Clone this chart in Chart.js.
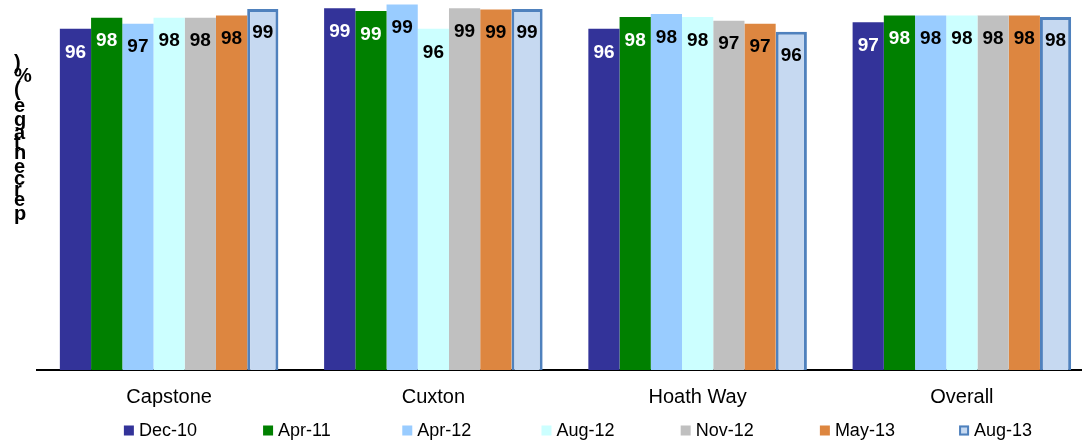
<!DOCTYPE html>
<html>
<head>
<meta charset="utf-8">
<script src="https://cdn.jsdelivr.net/npm/chart.js@4.4.1/dist/chart.umd.min.js"></script>
<style>
  html, body { margin: 0; padding: 0; background: #fff; overflow: hidden; }
  #wrap { width: 1082px; height: 443px; overflow: hidden; position: relative; }
  canvas { display: block; }
</style>
</head>
<body>
<div id="wrap"><canvas id="c" width="1100" height="443"></canvas></div>
<script>
// Satisfaction survey results by site, per survey round (percent)
const sites   = ['Capstone', 'Cuxton', 'Hoath Way', 'Overall'];
const surveys = ['Dec-10', 'Apr-11', 'Apr-12', 'Aug-12', 'Nov-12', 'May-13', 'Aug-13'];

const dec10 = [96.1, 98.9, 96.1, 97.0];
const apr11 = [97.6, 98.5, 97.7, 97.9];
const apr12 = [96.8, 99.4, 98.1, 97.9];
const aug12 = [97.6, 96.1, 97.7, 97.9];
const nov12 = [97.6, 98.9, 97.2, 97.9];
const may13 = [97.9, 98.7, 96.8, 97.9];
const aug13 = [98.8, 98.8, 95.7, 97.7];

const axisTitle = 'percentage (%)';

const seriesValues = [dec10, apr11, apr12, aug12, nov12, may13, aug13];
const fills   = ['#333399', '#008000', '#99CCFF', '#CCFFFF', '#C0C0C0', '#DD8640', '#C6D9F1'];
const borders = [null, null, null, null, null, null, '#4F81BD'];
const labelInk = ['#ffffff', '#ffffff', '#000000', '#000000', '#000000', '#000000', '#000000'];

const FONT = "'Liberation Sans', Arial, sans-serif";

const datasets = surveys.map((name, i) => ({
  label: name,
  data: seriesValues[i],
  backgroundColor: fills[i],
  borderColor: borders[i] || fills[i],
  borderWidth: borders[i] ? 3 : 0,
  borderSkipped: false
}));

// Rounded value printed inside the top of every bar
const valueLabels = {
  id: 'valueLabels',
  afterDatasetsDraw(chart) {
    const ctx = chart.ctx;
    ctx.save();
    ctx.font = 'bold 19px ' + FONT;
    ctx.textAlign = 'center';
    ctx.textBaseline = 'middle';
    chart.data.datasets.forEach((ds, di) => {
      const meta = chart.getDatasetMeta(di);
      ctx.fillStyle = labelInk[di];
      meta.data.forEach((bar, j) => {
        ctx.fillText(String(Math.round(ds.data[j])), bar.x, bar.y + 23.5);
      });
    });
    ctx.restore();
  }
};

// Vertical axis title with upright, stacked characters
const stackedTitle = {
  id: 'stackedTitle',
  afterDraw(chart) {
    const ctx = chart.ctx;
    ctx.save();
    ctx.font = 'bold 20px ' + FONT;
    ctx.fillStyle = '#000';
    ctx.textAlign = 'left';
    ctx.textBaseline = 'middle';
    const chars = axisTitle.split('');
    const w = chars.map(ch => ctx.measureText(ch).width);
    const centres = [0];
    for (let i = 1; i < chars.length; i++) centres.push(centres[i - 1] + (w[i - 1] + w[i]) / 2);
    const yBottom = 214, yTop = 63;
    const k = (yBottom - yTop) / centres[centres.length - 1];
    chars.forEach((ch, i) => {
      if (ch !== ' ') ctx.fillText(ch, 14, yBottom - centres[i] * k);
    });
    ctx.restore();
  }
};

// Legend row along the bottom edge
const bottomLegend = {
  id: 'bottomLegend',
  afterDraw(chart) {
    const ctx = chart.ctx;
    ctx.save();
    ctx.font = '18px ' + FONT;
    ctx.textBaseline = 'middle';
    ctx.textAlign = 'left';
    const slot = 139.2, box = 10, cy = 430.5;
    const lastW = box + 5 + ctx.measureText(surveys[surveys.length - 1]).width;
    const total = slot * (surveys.length - 1) + lastW;
    const x0 = 578 - total / 2;
    surveys.forEach((name, i) => {
      const x = x0 + i * slot;
      ctx.fillStyle = fills[i];
      ctx.fillRect(x, cy - box / 2, box, box);
      if (borders[i]) {
        ctx.strokeStyle = borders[i];
        ctx.lineWidth = 2;
        ctx.strokeRect(x + 1, cy - box / 2 + 1, box - 2, box - 2);
      }
      ctx.fillStyle = '#000';
      ctx.fillText(name, x + box + 5, cy + 1);
    });
    ctx.restore();
  }
};

new Chart(document.getElementById('c'), {
  type: 'bar',
  data: { labels: sites, datasets },
  options: {
    responsive: false,
    animation: false,
    events: [],
    layout: { padding: { left: 37, right: 6, top: 0, bottom: 19 } },
    datasets: { bar: { categoryPercentage: 0.827, barPercentage: 1 } },
    plugins: { legend: { display: false }, tooltip: { enabled: false } },
    scales: {
      x: {
        grid: { display: false, drawTicks: false },
        border: { display: true, color: '#000', width: 2 },
        ticks: { color: '#000', font: { family: FONT, size: 20 }, padding: 15 }
      },
      y: { display: false, min: 50, max: 100 }
    }
  },
  plugins: [valueLabels, stackedTitle, bottomLegend]
});
</script>
</body>
</html>
